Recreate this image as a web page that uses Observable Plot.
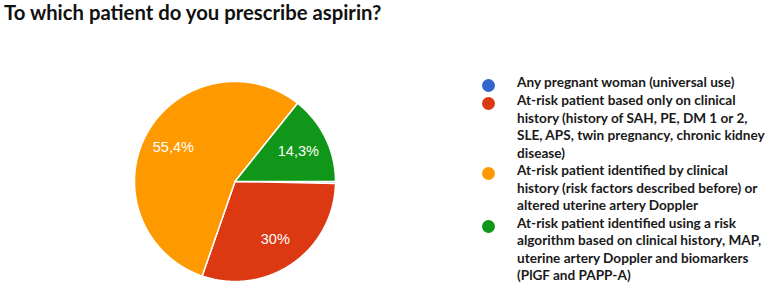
<!DOCTYPE html>
<html>
<head>
<meta charset="utf-8">
<script src="https://cdn.jsdelivr.net/npm/d3@7"></script>
<script src="https://cdn.jsdelivr.net/npm/@observablehq/plot@0.6"></script>
<style>
  html, body { margin: 0; padding: 0; background: #fff; }
  #wrap { position: relative; width: 765px; height: 285px; overflow: hidden; }
  #title { position: absolute; left: 4px; top: 0px; font-family: Lato, sans-serif; font-weight: 700; font-size: 20.3px; color: #111; white-space: nowrap; }
  #legend { position: absolute; left: 482px; top: 74px; font-family: Lato, sans-serif; font-weight: 700; font-size: 13.6px; line-height: 17.5px; color: #1a1a1a; }
  .item { display: flex; align-items: flex-start; }
  .dot { width: 13px; height: 13px; border-radius: 50%; margin-top: 5px; margin-right: 22px; flex: none; }
  .lbl { white-space: pre; }
  #chart { position: absolute; left: 0; top: 0; }
</style>
</head>
<body>
<div id="wrap">
  <div id="chart"></div>
  <div id="title"></div>
  <div id="legend"></div>
</div>
<script>
const title = "To which patient do you prescribe aspirin?";
const categories = [
  "Any pregnant woman (universal use)",
  "At-risk patient based only on clinical\nhistory (history of SAH, PE, DM 1 or 2,\nSLE, APS, twin pregnancy, chronic kidney\ndisease)",
  "At-risk patient identified by clinical\nhistory (risk factors described before) or\naltered uterine artery Doppler",
  "At-risk patient identified using a risk\nalgorithm based on clinical history, MAP,\nuterine artery Doppler and biomarkers\n(PlGF and PAPP-A)"
];
const values = [0.3, 30, 55.4, 14.3];
const colors = ["#3366cc", "#dc3912", "#ff9900", "#109618"];

document.getElementById("title").textContent = title;

// Pie geometry derived from the values (clockwise, starting at 3 o'clock)
const total = d3.sum(values);
const startAngle = Math.PI / 2;
const pts = [];
const labels = [];
let acc = 0;
values.forEach((v, i) => {
  const a0 = startAngle + (acc / total) * 2 * Math.PI;
  acc += v;
  const a1 = startAngle + (acc / total) * 2 * Math.PI;
  const n = Math.max(2, Math.ceil((a1 - a0) / 0.01));
  pts.push({cat: categories[i], x: 0, y: 0});
  for (let k = 0; k <= n; k++) {
    const a = a0 + (a1 - a0) * k / n;
    pts.push({cat: categories[i], x: Math.sin(a), y: Math.cos(a)});
  }
  if (v / total > 0.05) {
    const am = (a0 + a1) / 2;
    const r = 0.7;
    labels.push({x: r * Math.sin(am), y: r * Math.cos(am), text: String(v).replace(".", ",") + "%"});
  }
});

const chart = Plot.plot({
  width: 765,
  height: 285,
  marginLeft: 134,
  marginRight: 765 - 335,
  marginTop: 81,
  marginBottom: 285 - 281,
  x: {domain: [-1, 1], axis: null},
  y: {domain: [-1, 1], axis: null},
  color: {domain: categories, range: colors},
  style: {fontFamily: "'Liberation Sans', Arial, sans-serif", background: "transparent"},
  marks: [
    Plot.line(pts, {x: "x", y: "y", z: "cat", fill: "cat", stroke: "white", strokeWidth: 1.5, curve: "linear-closed"}),
    Plot.text(labels, {x: "x", y: "y", text: "text", fill: "white", fontSize: 14.5})
  ]
});
document.getElementById("chart").appendChild(chart);

const legend = document.getElementById("legend");
categories.forEach((c, i) => {
  const item = document.createElement("div");
  item.className = "item";
  const dot = document.createElement("span");
  dot.className = "dot";
  dot.style.background = colors[i];
  const lbl = document.createElement("span");
  lbl.className = "lbl";
  lbl.textContent = c;
  item.appendChild(dot);
  item.appendChild(lbl);
  legend.appendChild(item);
});
</script>
</body>
</html>
